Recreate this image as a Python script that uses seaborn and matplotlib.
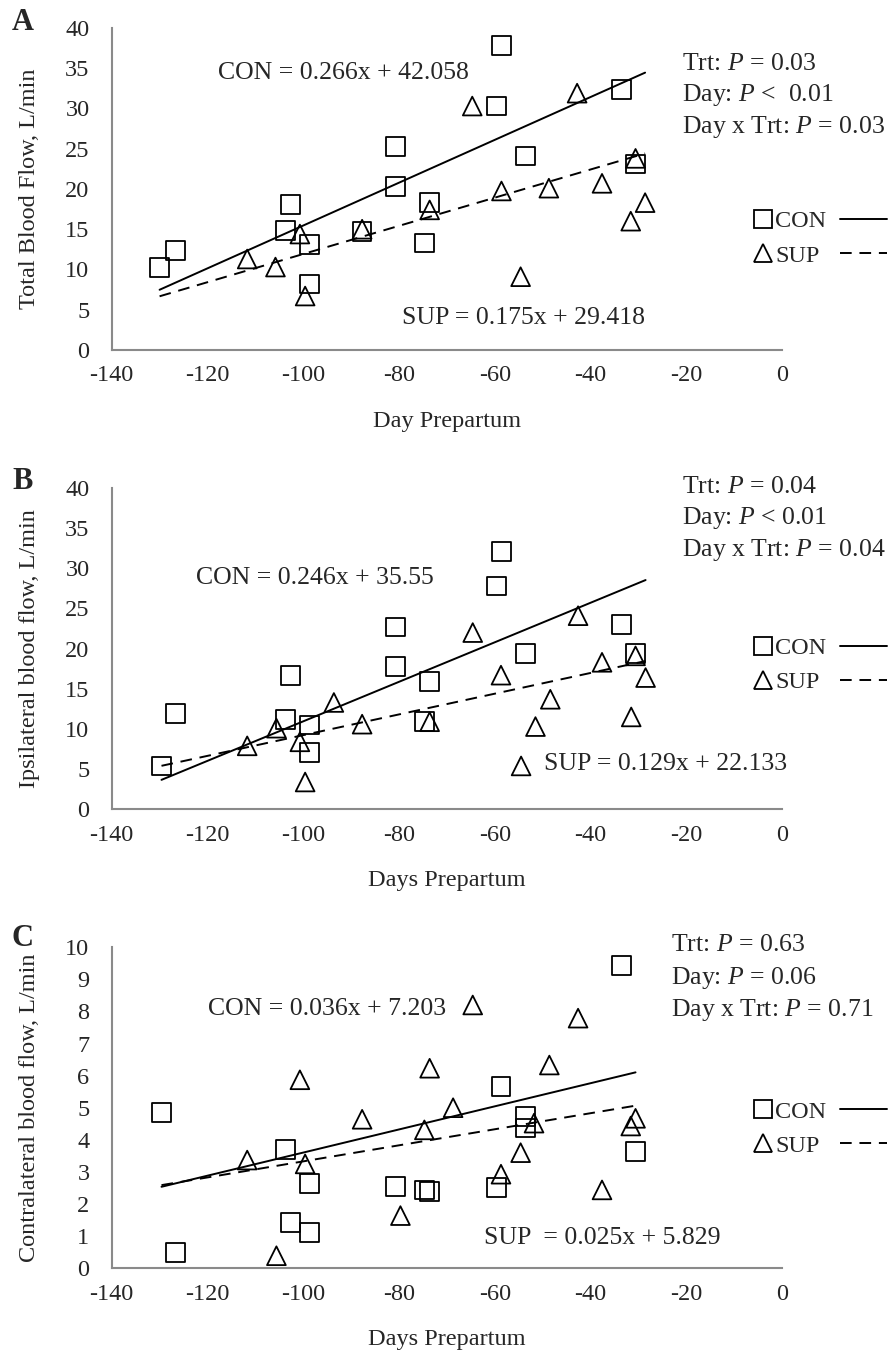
import numpy as np
import pandas as pd
import matplotlib
matplotlib.use("Agg")
import matplotlib.pyplot as plt
import seaborn as sns
from matplotlib.lines import Line2D

# ---- data ----
# A: total blood flow
a_con_day = [-130, -126.6, -103.7, -102.6, -98.7, -98.7, -87.7, -80.7, -80.7,
             -74.7, -73.6, -59.6, -58.6, -53.6, -33.6, -30.6]
a_con_val = [10.2, 12.4, 14.8, 18.1, 13.1, 8.2, 14.7, 25.3, 20.3,
             13.3, 18.3, 30.3, 37.8, 24.1, 32.4, 23.1]
a_sup_day = [-111.7, -105.8, -100.7, -99.6, -87.7, -73.6, -64.7, -58.6,
             -54.6, -48.7, -42.8, -37.6, -31.6, -30.6, -28.6]
a_sup_val = [11.3, 10.3, 14.4, 6.7, 15.0, 17.4, 30.3, 19.75,
             9.1, 20.1, 31.9, 20.7, 16.0, 23.8, 18.3]
a_fit = {"CON": (0.266, 42.058), "SUP": (0.175, 29.418)}

# B: ipsilateral blood flow
b_con_day = [-129.6, -126.6, -103.7, -102.6, -98.7, -98.7, -80.7, -80.7,
             -74.7, -73.6, -59.6, -58.6, -53.6, -33.6, -30.6]
b_con_val = [5.4, 11.95, 11.2, 16.7, 10.5, 7.05, 22.7, 17.8,
             10.9, 15.9, 27.8, 32.1, 19.4, 23.0, 19.4]
b_sup_day = [-111.7, -105.6, -100.7, -99.6, -93.6, -87.7, -73.6, -64.6, -58.7,
             -54.5, -51.5, -48.4, -42.6, -37.6, -31.5, -30.6, -28.5]
b_sup_val = [7.9, 10.1, 8.4, 3.4, 13.3, 10.6, 10.9, 22.0, 16.7,
             5.4, 10.3, 13.7, 24.1, 18.3, 11.5, 19.1, 16.4]
b_fit = {"CON": (0.246, 35.55), "SUP": (0.129, 22.133)}

# C: contralateral blood flow
c_con_day = [-129.6, -126.6, -103.7, -102.6, -98.7, -98.7, -80.7, -74.7,
             -73.6, -59.6, -58.7, -53.6, -53.6, -33.6, -30.6]
c_con_val = [4.86, 0.50, 3.69, 1.43, 2.65, 1.12, 2.54, 2.44,
             2.39, 2.51, 5.66, 4.72, 4.37, 9.42, 3.63]
c_sup_day = [-111.7, -105.6, -100.7, -99.6, -87.7, -79.7, -74.7, -73.6, -68.7,
             -64.6, -58.7, -54.6, -51.8, -48.6, -42.6, -37.6, -31.6, -30.6]
c_sup_val = [3.37, 0.39, 5.87, 3.25, 4.64, 1.64, 4.31, 6.23, 5.0,
             8.2, 2.93, 3.6, 4.52, 6.33, 7.79, 2.44, 4.43, 4.67]
c_fit = {"CON": (0.036, 7.203), "SUP": (0.025, 5.829)}

a_eq = ["CON = 0.266x + 42.058", "SUP = 0.175x + 29.418"]
b_eq = ["CON = 0.246x + 35.55", "SUP = 0.129x + 22.133"]
c_eq = ["CON = 0.036x + 7.203", "SUP  = 0.025x + 5.829"]

a_stats = ["Trt: $P$ = 0.03", "Day: $P$ <  0.01", "Day x Trt: $P$ = 0.03"]
b_stats = ["Trt: $P$ = 0.04", "Day: $P$ < 0.01", "Day x Trt: $P$ = 0.04"]
c_stats = ["Trt: $P$ = 0.63", "Day: $P$ = 0.06", "Day x Trt: $P$ = 0.71"]

x_ticks = [-140, -120, -100, -80, -60, -40, -20, 0]

sns.set_theme(style="white")
plt.rcParams["font.family"] = ["Liberation Serif", "DejaVu Serif"]
plt.rcParams["mathtext.fontset"] = "custom"
plt.rcParams["mathtext.rm"] = "Liberation Serif"
plt.rcParams["mathtext.it"] = "Liberation Serif:italic"
plt.rcParams["axes.unicode_minus"] = False

panels = [
    dict(letter="A", con=(a_con_day, a_con_val), sup=(a_sup_day, a_sup_val), fit=a_fit,
         eq=a_eq, stats=a_stats, ylabel="Total Blood Flow, L/min", xlabel="Day Prepartum",
         yticks=np.arange(0, 41, 5), ymax=40,
         rect=[0.1248, 0.7421, 0.749, 0.2373], letter_y=1 - 23 / 1357,
         con_xy=(0.159, 0.860), sup_xy=(0.433, 0.099),
         stats_x=0.851, stats_y=[0.888, 0.792, 0.692], leg_y=0.346),
    dict(letter="B", con=(b_con_day, b_con_val), sup=(b_sup_day, b_sup_val), fit=b_fit,
         eq=b_eq, stats=b_stats, ylabel="Ipsilateral blood flow, L/min", xlabel="Days Prepartum",
         yticks=np.arange(0, 41, 5), ymax=40,
         rect=[0.1248, 0.4036, 0.749, 0.2368], letter_y=1 - 481 / 1357,
         con_xy=(0.126, 0.720), sup_xy=(0.645, 0.141),
         stats_x=0.851, stats_y=[1.004, 0.907, 0.807], leg_y=0.448),
    dict(letter="C", con=(c_con_day, c_con_val), sup=(c_sup_day, c_sup_val), fit=c_fit,
         eq=c_eq, stats=c_stats, ylabel="Contralateral blood flow, L/min", xlabel="Days Prepartum",
         yticks=np.arange(0, 11, 1), ymax=10,
         rect=[0.1248, 0.0654, 0.749, 0.2366], letter_y=1 - 938 / 1357,
         con_xy=(0.144, 0.807), sup_xy=(0.555, 0.094),
         stats_x=0.835, stats_y=[1.007, 0.903, 0.805], leg_y=0.435),
]

fig = plt.figure(figsize=(8.95, 13.57), dpi=100)
axis_grey = "#8a8a8a"
ms = 13.5

for p in panels:
    ax = fig.add_axes(p["rect"])
    df = pd.concat([
        pd.DataFrame({"day": p["con"][0], "flow": p["con"][1], "trt": "CON"}),
        pd.DataFrame({"day": p["sup"][0], "flow": p["sup"][1], "trt": "SUP"}),
    ])

    # fitted lines over the panel's day range
    xr = np.array([df["day"].min(), df["day"].max()])
    for trt, ls in [("CON", "-"), ("SUP", (0, (6, 4)))]:
        m, b = p["fit"][trt]
        sns.lineplot(x=xr, y=m * xr + b, ax=ax, color="black", linewidth=1.4,
                     linestyle=ls, zorder=2)

    for trt, mk in [("CON", "s"), ("SUP", "^")]:
        sub = df[df["trt"] == trt]
        sns.scatterplot(data=sub, x="day", y="flow", ax=ax, marker=mk, s=ms ** 2,
                        facecolor="none", edgecolor="black", linewidth=1.3, zorder=3)

    ax.set_xlim(-140, 0)
    ax.set_ylim(0, p["ymax"])
    ax.set_xticks(x_ticks)
    ax.set_yticks(p["yticks"])
    ax.tick_params(axis="both", length=0, labelsize=17.5)
    ax.tick_params(axis="x", pad=11)
    ax.tick_params(axis="y", pad=16)
    for s in ["top", "right"]:
        ax.spines[s].set_visible(False)
    for s in ["left", "bottom"]:
        ax.spines[s].set_color(axis_grey)
        ax.spines[s].set_linewidth(1.5)
    ax.grid(False)

    ax.set_xlabel(p["xlabel"], fontsize=17.5)
    ax.set_ylabel(p["ylabel"], fontsize=17.5)
    ax.xaxis.set_label_coords(0.5, -0.189)
    ax.yaxis.set_label_coords(-0.107, 0.5)

    ax.text(*p["con_xy"], p["eq"][0], transform=ax.transAxes, fontsize=18.5,
            ha="left", va="center")
    ax.text(*p["sup_xy"], p["eq"][1], transform=ax.transAxes, fontsize=18.5,
            ha="left", va="center")
    for line, yy in zip(p["stats"], p["stats_y"]):
        ax.text(p["stats_x"], yy, line, transform=ax.transAxes, fontsize=18.5,
                ha="left", va="center", clip_on=False)

    # legend: marker + name, then line sample
    mk_handles = [Line2D([], [], marker="s", ls="none", mfc="none", mec="black", ms=12.5, mew=1.3),
                  Line2D([], [], marker="^", ls="none", mfc="none", mec="black", ms=12.5, mew=1.3)]
    leg1 = ax.legend(mk_handles, ["CON", "SUP"], loc="center left",
                     bbox_to_anchor=(0.955, p["leg_y"]), frameon=False, fontsize=17.5,
                     handlelength=0.9, handletextpad=0.05, borderpad=0, borderaxespad=0,
                     labelspacing=0.5)
    ax.add_artist(leg1)
    ln_handles = [Line2D([], [], color="black", lw=1.4),
                  Line2D([], [], color="black", lw=1.4, ls=(0, (6, 4)))]
    ax.legend(ln_handles, ["", ""], loc="center left",
              bbox_to_anchor=(1.0865, p["leg_y"]), frameon=False, fontsize=17.5,
              handlelength=1.95, handletextpad=0, borderpad=0, borderaxespad=0,
              labelspacing=0.5)

    fig.text(23 / 895, p["letter_y"], p["letter"], fontsize=22, fontweight="bold",
             ha="center", va="center")

fig.savefig("out.png", dpi=100)
